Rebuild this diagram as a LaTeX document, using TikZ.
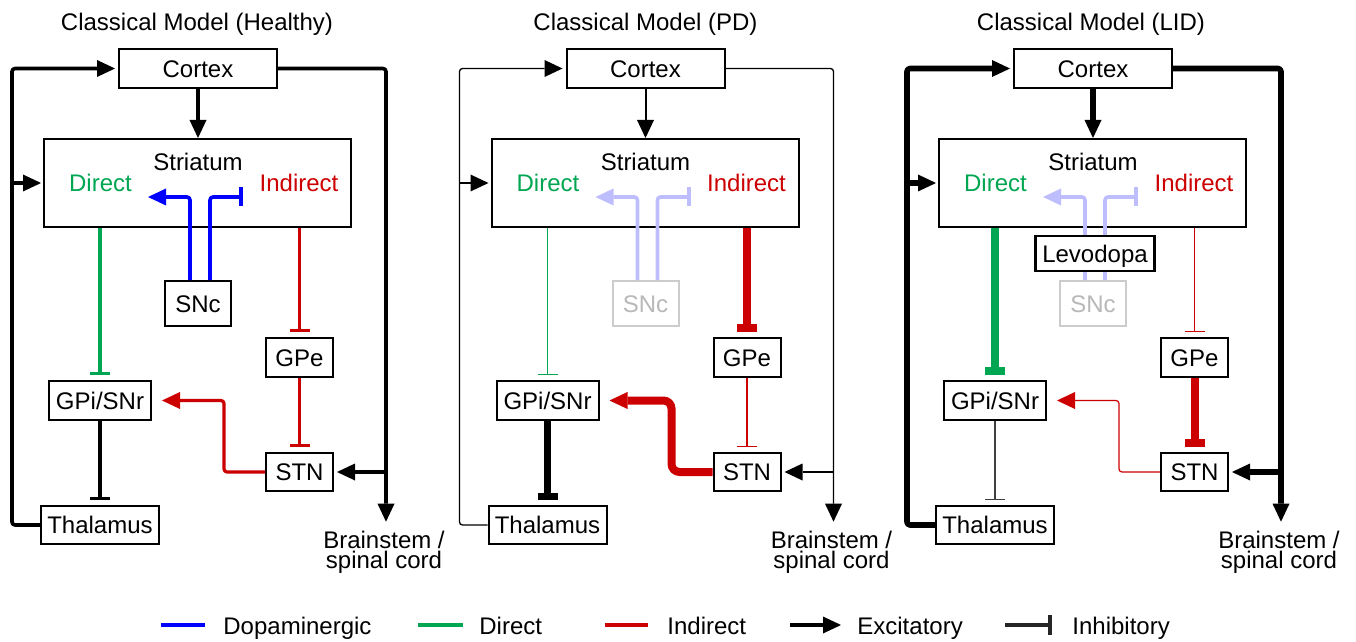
\documentclass[tikz,border=0pt]{standalone}
\usepackage{fontspec}
\setmainfont{Liberation Sans}
\usetikzlibrary{arrows.meta}

\definecolor{pgreen}{RGB}{0,166,81}
\definecolor{pred}{RGB}{204,0,0}
\definecolor{pblue}{RGB}{0,0,255}
\definecolor{paleblue}{RGB}{190,190,255}

\tikzset{
  exc/.style={-{Triangle[length=9pt,width=8.5pt,line width=0pt]}},
  inh/.style={-{Bar[width=10pt]}, shorten >=2.5pt},
  conn/.style={line join=round, rounded corners=1.5pt},
  box/.style={draw, line width=1pt, fill=white, inner sep=0pt,
              text height=8.6pt, text depth=0pt},
  lbl/.style={inner sep=0pt, anchor=base},
  legline/.style={line width=2pt}
}

% One basal-ganglia circuit: #1 = name prefix, #2 = horizontal offset
\newcommand\bgcircuit[2]{%
\begin{scope}[xshift=#2]
  % nuclei
  \node[box, minimum width=79pt, minimum height=19.5pt] (#1ctx) at (198,68.5) {Cortex};
  \node[box, minimum width=153.5pt, minimum height=44pt] (#1str) at (197.5,183) {};
  \node[lbl] (#1strl) at (198,170) {Striatum};
  \node[lbl, text=pgreen] (#1dirl) at (100.5,191.7) {Direct};
  \node[lbl, text=pred] (#1indl) at (299,191.7) {Indirect};
  \node[box, sncbox, minimum width=33pt, minimum height=22.5pt] (#1snc) at (198,303.5) {SNc};
  \node[box, minimum width=33.5pt, minimum height=19.5pt] (#1gpe) at (299.5,357.5) {GPe};
  \node[box, minimum width=33.5pt, minimum height=19pt] (#1stn) at (299.5,472) {STN};
  \node[box, minimum width=51pt, minimum height=19.5pt] (#1gpi) at (100,400.5) {GPi/SNr};
  \node[box, minimum width=59pt, minimum height=19pt] (#1thal) at (100,525) {Thalamus};
  \node[lbl] (#1bsa) at (384,548.3) {Brainstem /};
  \node[lbl] (#1bsb) at (384,568.3) {spinal cord};
  % routing points
  \coordinate (#1L) at (12,0);
  \coordinate (#1R) at (386,521.7);
  \coordinate (#1ck) at (224,0);
  \coordinate (#1dl) at (190,197);
  \coordinate (#1da) at (148,197);
  \coordinate (#1dr) at (210,197);
  \coordinate (#1db) at (243,197);
  % thalamo-cortical loop and cortical outputs
  \draw[conn, wloop, exc, shorten >=1.5pt] (#1thal.west) -- (#1thal.west -| #1L)
        -- (#1L |- #1ctx.west) -- (#1ctx.west);
  \draw[conn, wloop, exc, shorten >=1pt] (#1L |- #1str.west) -- (#1str.west);
  \draw[conn, wloop, exc] (#1ctx.east) -- (#1ctx.east -| #1R) -- (#1R);
  \draw[conn, wloop, exc, shorten >=1.5pt] (#1R |- #1stn.east) -- (#1stn.east);
  \draw[conn, wcs, exc] (#1ctx.south) -- (#1str.north -| #1ctx.south);
  % dopaminergic input
  \draw[conn, dopa, exc] (#1snc.north -| #1dl) -- (#1dl) -- (#1da);
  \draw[conn, dopa, -{Bar[width=9.5pt]}] (#1snc.north -| #1dr) -- (#1dr) -- (#1db);
  % direct pathway
  \draw[conn, wdir, pgreen, inh] (#1str.south -| #1gpi.north) -- (#1gpi.north);
  % indirect pathway
  \draw[conn, wind, pred, inh] (#1str.south -| #1gpe.north) -- (#1gpe.north);
  \draw[conn, wgs, pred, inh] (#1gpe.south) -- (#1stn.north);
  \draw[conn, wsg, pred, exc, shorten >=5pt] (#1stn.west) -- (#1stn.west -| #1ck)
        -- (#1ck |- #1gpi.east) -- (#1gpi.east);
  % output
  \draw[conn, wout, inh] (#1gpi.south) -- (#1thal.north);
\end{scope}}

\begin{document}
\begin{tikzpicture}[x=0.5pt, y=-0.5pt, font=\fontsize{12}{14}\selectfont]
  \useasboundingbox (0,0) rectangle (1356,642);
  \fill[white] (0,0) rectangle (1356,642);
  \begin{scope}
  \clip (0,0) rectangle (1341,642);

  % ---- healthy ----
  \node[lbl] (t1) at (197,30.7) {Classical Model (Healthy)};
  \tikzset{
    wloop/.style={line width=1.8pt}, wcs/.style={line width=1.8pt},
    wdir/.style={line width=1.6pt}, wind/.style={line width=1.6pt},
    wgs/.style={line width=1.6pt}, wsg/.style={line width=1.6pt},
    wout/.style={line width=1.6pt, black},
    dopa/.style={line width=1.8pt, pblue},
    sncbox/.style={}
  }
  \bgcircuit{h}{0pt}

  % ---- Parkinson's disease ----
  \node[lbl] (t2) at (645.5,30.7) {Classical Model (PD)};
  \tikzset{
    wloop/.style={line width=0.65pt}, wcs/.style={line width=1pt},
    wdir/.style={line width=0.6pt}, wind/.style={line width=4pt},
    wgs/.style={line width=0.55pt}, wsg/.style={line width=4pt, rounded corners=4pt},
    wout/.style={line width=3.6pt, black},
    dopa/.style={line width=1.8pt, paleblue},
    sncbox/.style={draw=black!20, text=black!28}
  }
  \bgcircuit{p}{223.75pt}

  % ---- levodopa-induced dyskinesia ----
  \node[lbl] (t3) at (1091,30.7) {Classical Model (LID)};
  \tikzset{
    wloop/.style={line width=2.8pt}, wcs/.style={line width=3pt},
    wdir/.style={line width=4pt}, wind/.style={line width=0.6pt},
    wgs/.style={line width=4pt}, wsg/.style={line width=0.6pt},
    wout/.style={line width=0.6pt, black!75},
    dopa/.style={line width=1.8pt, paleblue},
    sncbox/.style={draw=black!20, text=black!28}
  }
  \bgcircuit{l}{447.5pt}
  \node[box, line width=1.2pt, minimum width=59.5pt, minimum height=17.5pt] (ldopa) at (1095,253.5) {Levodopa};
  \end{scope}

  % ---- legend ----
  \coordinate (k1a) at (160.5,625); \coordinate (k1b) at (204.5,625);
  \coordinate (k2a) at (418,625);   \coordinate (k2b) at (463,625);
  \coordinate (k3a) at (605,625);   \coordinate (k3b) at (648,625);
  \coordinate (k4a) at (790,625);   \coordinate (k4b) at (841,625);
  \coordinate (k5a) at (1005,625);  \coordinate (k5b) at (1052,625);
  \draw[legline, pblue] (k1a) -- (k1b);
  \draw[legline, pgreen] (k2a) -- (k2b);
  \draw[legline, pred] (k3a) -- (k3b);
  \draw[legline, exc] (k4a) -- (k4b);
  \draw[legline, black!85, -{Bar[width=10pt]}] (k5a) -- (k5b);
  \node[lbl, anchor=base west] (k1t) at (223,634) {Dopaminergic};
  \node[lbl, anchor=base west] (k2t) at (479,634) {Direct};
  \node[lbl, anchor=base west] (k3t) at (667,634) {Indirect};
  \node[lbl, anchor=base west] (k4t) at (857,634) {Excitatory};
  \node[lbl, anchor=base west] (k5t) at (1072,634) {Inhibitory};
\end{tikzpicture}
\end{document}
